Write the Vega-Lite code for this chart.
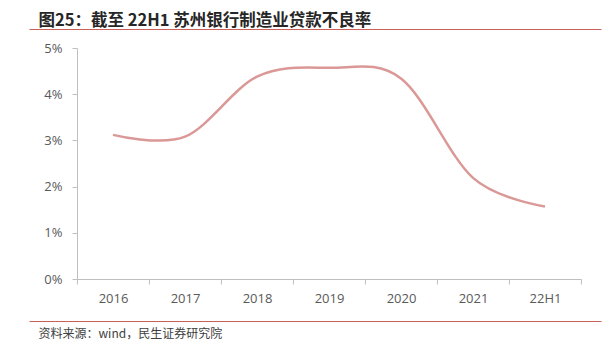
{
  "$schema": "https://vega.github.io/schema/vega-lite/v6.json",
  "width": 572,
  "height": 231,
  "autosize": {"type": "none"},
  "padding": {"left": 29, "top": 48, "right": 11, "bottom": 78},
  "background": "white",
  "config": {"view": {"stroke": null}, "font": "Noto Sans CJK SC"},
  "data": {"values": [
    {"period": "2016", "rate": 0.0312},
    {"period": "2017", "rate": 0.0308},
    {"period": "2018", "rate": 0.0438},
    {"period": "2019", "rate": 0.0457},
    {"period": "2020", "rate": 0.0434},
    {"period": "2021", "rate": 0.0219},
    {"period": "22H1", "rate": 0.0157}
  ]},
  "layer": [
    {
      "mark": {"type": "line", "interpolate": "cardinal", "color": "#DA9896", "strokeWidth": 2.5},
      "encoding": {
        "x": {
          "field": "period", "type": "nominal", "sort": null,
          "scale": {"type": "band", "range": [48, 552], "paddingInner": 0, "paddingOuter": 0},
          "axis": {
            "title": null, "labelAngle": 0, "tickBand": "extent",
            "domainColor": "#BFBFBF", "tickColor": "#BFBFBF", "tickSize": 5,
            "labelColor": "#595959", "labelFontSize": 13, "labelFont": "Open Sans",
            "labelPadding": 8, "grid": false
          }
        },
        "y": {
          "field": "rate", "type": "quantitative",
          "scale": {"domain": [0, 0.05], "nice": false, "zero": true},
          "axis": {
            "title": null, "offset": -48, "values": [0, 0.01, 0.02, 0.03, 0.04, 0.05],
            "format": ".0%", "domainColor": "#BFBFBF", "tickColor": "#BFBFBF", "tickSize": 5,
            "labelColor": "#595959", "labelFontSize": 13, "labelFont": "Open Sans",
            "labelPadding": 10, "grid": false
          }
        }
      }
    },
    {
      "mark": {"type": "rule", "opacity": 0, "strokeWidth": 0},
      "encoding": {
        "x": {
          "datum": 0, "type": "quantitative", "scale": {"domain": [0, 1]},
          "axis": {
            "orient": "top", "offset": 19, "labels": false, "ticks": false, "grid": false,
            "domainColor": "#C9605B", "domainWidth": 1,
            "title": "图25：截至 22H1 苏州银行制造业贷款不良率",
            "titleAnchor": "start", "titleAlign": "left", "titleBaseline": "alphabetic",
            "titleX": 9, "titleY": -4, "titleFontSize": 16.5, "titleFontWeight": "bold",
            "titleColor": "#262626", "titleFont": "Noto Sans CJK SC"
          }
        }
      }
    },
    {
      "mark": {"type": "rule", "opacity": 0, "strokeWidth": 0},
      "encoding": {
        "x": {
          "datum": 0, "type": "quantitative", "scale": {"domain": [0, 1]},
          "axis": {
            "orient": "bottom", "offset": 42, "labels": false, "ticks": false, "grid": false,
            "domainColor": "#C9605B", "domainWidth": 1,
            "title": "资料来源：wind，民生证券研究院",
            "titleAnchor": "start", "titleAlign": "left", "titleBaseline": "alphabetic",
            "titleX": 9, "titleY": 16, "titleFontSize": 12, "titleFontWeight": "normal",
            "titleColor": "#404040", "titleFont": "Noto Sans CJK SC"
          }
        }
      }
    }
  ],
  "resolve": {"scale": {"x": "independent"}, "axis": {"x": "independent"}}
}
